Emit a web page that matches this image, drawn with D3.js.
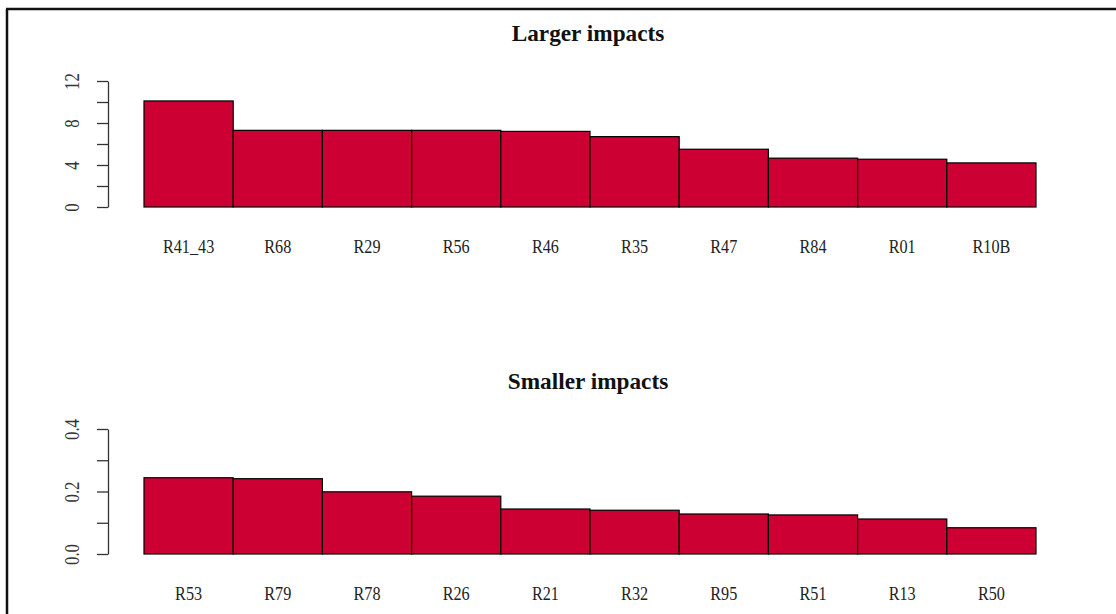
<!DOCTYPE html>
<html>
<head>
<meta charset="utf-8">
<title></title>
<script src="https://d3js.org/d3.v7.min.js"></script>
<style type="text/css">
	body { margin: 0; background: #fff; }
	text { font-family: "Liberation Serif", "Times New Roman", serif; }
	.bar { fill: #cc0033; stroke: #000; stroke-width: 1.2; }
	.axis path, .axis line { stroke: #333; stroke-width: 1.3; }
	.axis text { font-size: 20px; fill: #333; }
	.title { font-size: 24px; font-weight: bold; fill: #111; }
	.xlab { font-size: 18px; fill: #222; }
</style>
</head>
<body>
<script type="text/javascript">

// values
var largeNames = ["R41_43", "R68", "R29", "R56", "R46", "R35", "R47", "R84", "R01", "R10B"];
var largeVals  = [10.1, 7.3, 7.3, 7.3, 7.2, 6.7, 5.5, 4.65, 4.55, 4.2];

var smallNames = ["R53", "R79", "R78", "R26", "R21", "R32", "R95", "R51", "R13", "R50"];
var smallVals  = [0.244, 0.241, 0.199, 0.185, 0.144, 0.140, 0.128, 0.125, 0.112, 0.084];

var largeTicks = [0, 2, 4, 6, 8, 10, 12],
	largeTickLabels = ["0", "", "4", "", "8", "", "12"];
var smallTicks = [0, 0.1, 0.2, 0.3, 0.4],
	smallTickLabels = ["0.0", "", "0.2", "", "0.4"];

var width = 1116,
	height = 614,
	squeeze = 0.84;   // the text in the picture is narrow, like a condensed serif

var svg = d3.select('body').append('svg')
	.attr('width', width)
	.attr('height', height)

// outer frame (only top and left edges visible)
svg.append('line').attr('x1', 6).attr('x2', width).attr('y1', 9).attr('y2', 9)
	.style('stroke', '#111').style('stroke-width', 2.5)
svg.append('line').attr('x1', 7).attr('x2', 7).attr('y1', 9).attr('y2', height)
	.style('stroke', '#111').style('stroke-width', 2.5)

function panel(names, vals, ticks, tickLabels, ymax, top, bottom, title, titleY, labY) {

	var x = d3.scaleBand()
		.domain(names)
		.range([144, 1036])
		.padding(0)

	var y = d3.scaleLinear()
		.domain([0, ymax])
		.range([bottom, top])

	var g = svg.append('g')

	g.append('text')
		.attr('class', 'title')
		.attr('text-anchor', 'middle')
		.attr('transform', 'translate(588,' + titleY + ') scale(0.97,1)')
		.text(title)

	g.selectAll('.bar')
		.data(vals)
		.enter().append('rect').classed('bar', true)
		.attr('x', function(d, i) { return x(names[i]); })
		.attr('width', x.bandwidth())
		.attr('y', function(d) { return y(d); })
		.attr('height', function(d) { return y(0) - y(d); })

	var yAxis = d3.axisLeft(y)
		.tickValues(ticks)
		.tickSize(11)
		.tickSizeOuter(0)
		.tickFormat(function(d, i) { return tickLabels[i]; })

	var ax = g.append('g')
		.attr('class', 'axis')
		.attr('transform', 'translate(108,0)')
		.call(yAxis)

	ax.selectAll('.tick text')
		.attr('x', null)
		.attr('dy', null)
		.attr('text-anchor', 'middle')
		.attr('transform', 'translate(-29,0) rotate(-90) scale(' + squeeze + ',1)')

	g.selectAll('.xlab')
		.data(names)
		.enter().append('text').classed('xlab', true)
		.attr('text-anchor', 'middle')
		.attr('transform', function(d) {
			return 'translate(' + (x(d) + x.bandwidth() / 2) + ',' + labY + ') scale(0.9,1)';
		})
		.text(function(d) { return d; })
}

panel(largeNames, largeVals, largeTicks, largeTickLabels, 12, 81, 207, "Larger impacts", 41, 253)
panel(smallNames, smallVals, smallTicks, smallTickLabels, 0.4, 429, 554, "Smaller impacts", 389, 600)

</script>
</body>
</html>
